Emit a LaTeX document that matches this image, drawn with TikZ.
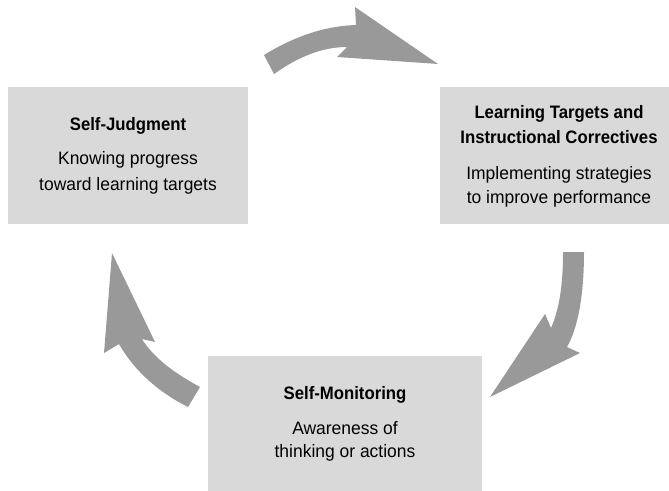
\documentclass[tikz,border=0pt]{standalone}
\usepackage{fontspec}
\setmainfont{Liberation Sans}[FakeStretch=0.97,BoldFeatures={FakeStretch=0.93}]
\definecolor{boxgray}{HTML}{D9D9D9}
\definecolor{arrowgray}{HTML}{999999}
\begin{document}
\begin{tikzpicture}[x=1pt,y=-1pt,
  panel/.style={fill=boxgray,draw=none,inner sep=0pt},
  ttl/.style={anchor=base,font=\fontsize{18}{20}\selectfont\bfseries,inner sep=0pt},
  txt/.style={anchor=base,font=\fontsize{18}{20}\selectfont,inner sep=0pt},
  cyc/.style={fill=arrowgray,draw=none}]
\useasboundingbox (0,0) rectangle (669,490);
% boxes
\node[panel,minimum width=240pt,minimum height=137pt] (sj) at (128,155.5) {};
\node[panel,minimum width=238pt,minimum height=137pt] (lt) at (559,155.5) {};
\node[panel,minimum width=274pt,minimum height=144pt] (sm) at (345,428) {};
% texts
\node[ttl] (sjt) at (128,130) {Self-Judgment};
\node[txt] (sj1) at (128,164) {Knowing progress};
\node[txt] (sj2) at (128,190) {toward learning targets};
\node[ttl] (ltt1) at (559,118) {Learning Targets and};
\node[ttl] (ltt2) at (559,143) {Instructional Correctives};
\node[txt] (lt1) at (559,179) {Implementing strategies};
\node[txt] (lt2) at (559,203) {to improve performance};
\node[ttl] (smt) at (345,399) {Self-Monitoring};
\node[txt] (sm1) at (345,434) {Awareness of};
\node[txt] (sm2) at (345,457) {thinking or actions};
% arrows
\fill[cyc] (264,55) .. controls (295,36) and (325,26) .. (356,25) -- (355,7) -- (438,64) -- (337,57) -- (347,47)
  .. controls (322,47) and (298,57) .. (274,74) -- cycle;
\fill[cyc] (563,252) -- (584,252) .. controls (584,295) and (578,328) .. (567,347) -- (580,353) -- (490,397)
  -- (545,314) -- (551,328) .. controls (558,312) and (563,290) .. (563,252) -- cycle;
\fill[cyc] (200,387) .. controls (178,375) and (155,360) .. (142,339) -- (155,342) -- (112,253) -- (104,353)
  -- (119,344) .. controls (135,372) and (160,393) .. (188,407) -- cycle;
\end{tikzpicture}
\end{document}
